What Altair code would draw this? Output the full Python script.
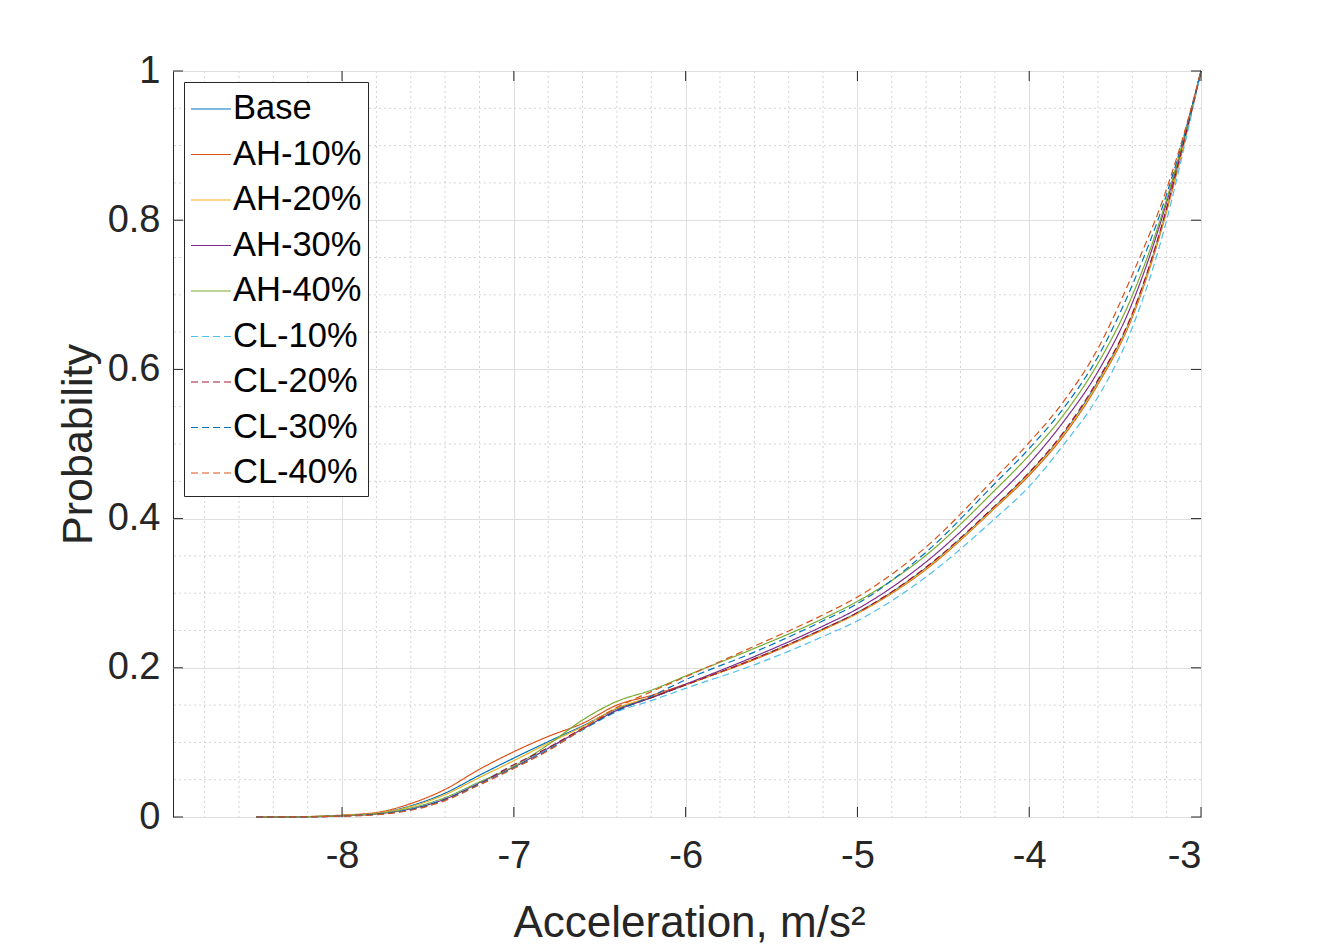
import altair as alt
import pandas as pd

# ---- data ----
X = [-8.5, -8.2, -8.0, -7.8, -7.6, -7.4, -7.2, -7.0, -6.8, -6.6, -6.4, -6.2, -6.0,
     -5.6, -5.2, -5.0, -4.6, -4.2, -4.0, -3.8, -3.6, -3.4, -3.2, -3.1, -3.0]

base = [0, 0.0005, 0.002, 0.005, 0.015, 0.032, 0.056, 0.079, 0.101, 0.122, 0.145, 0.160, 0.177,
        0.212, 0.252, 0.274, 0.334, 0.416, 0.461, 0.514, 0.584, 0.673, 0.815, 0.904, 1.0]
ah10 = [0, 0.0006, 0.0025, 0.006, 0.018, 0.037, 0.064, 0.0875, 0.108, 0.1255, 0.150, 0.163, 0.178,
        0.211, 0.251, 0.273, 0.332, 0.414, 0.458, 0.511, 0.580, 0.670, 0.812, 0.902, 1.0]
ah20 = [0, 0.0005, 0.002, 0.005, 0.014, 0.030, 0.053, 0.0755, 0.099, 0.121, 0.146, 0.161, 0.177,
        0.212, 0.251, 0.273, 0.333, 0.415, 0.460, 0.513, 0.582, 0.672, 0.814, 0.903, 1.0]
ah30 = [0, 0.0003, 0.0015, 0.004, 0.011, 0.024, 0.046, 0.067, 0.092, 0.118, 0.143, 0.160, 0.178,
        0.215, 0.256, 0.279, 0.342, 0.427, 0.474, 0.530, 0.597, 0.689, 0.824, 0.908, 1.0]
ah40 = [0, 0.0004, 0.0018, 0.0045, 0.012, 0.026, 0.047, 0.068, 0.097, 0.130, 0.155, 0.170, 0.189,
        0.226, 0.266, 0.289, 0.351, 0.438, 0.485, 0.539, 0.608, 0.699, 0.828, 0.910, 1.0]
cl10 = [0, 0.0003, 0.0015, 0.004, 0.011, 0.025, 0.046, 0.070, 0.091, 0.117, 0.141, 0.156, 0.1725,
        0.204, 0.242, 0.263, 0.322, 0.400, 0.443, 0.499, 0.563, 0.656, 0.800, 0.896, 1.0]
cl20 = [0, 0.0003, 0.0014, 0.0038, 0.010, 0.024, 0.045, 0.070, 0.093, 0.119, 0.143, 0.160, 0.177,
        0.212, 0.252, 0.274, 0.335, 0.417, 0.462, 0.516, 0.586, 0.675, 0.816, 0.905, 1.0]
cl30 = [0, 0.0003, 0.0013, 0.0035, 0.010, 0.023, 0.044, 0.066, 0.090, 0.117, 0.142, 0.162, 0.184,
        0.221, 0.263, 0.286, 0.355, 0.447, 0.494, 0.548, 0.617, 0.713, 0.835, 0.912, 1.0]
cl40 = [0, 0.0002, 0.0012, 0.003, 0.009, 0.022, 0.043, 0.065, 0.089, 0.118, 0.147, 0.168, 0.188,
        0.229, 0.271, 0.295, 0.362, 0.454, 0.502, 0.557, 0.628, 0.727, 0.842, 0.915, 1.0]

series_names = ["Base", "AH-10%", "AH-20%", "AH-30%", "AH-40%", "CL-10%", "CL-20%", "CL-30%", "CL-40%"]
series_vals = [base, ah10, ah20, ah30, ah40, cl10, cl20, cl30, cl40]
series_colors = ["#0072BD", "#D95319", "#EDB120", "#7E2F8E", "#77AC30",
                 "#4DBEEE", "#A2142F", "#0072BD", "#D95319"]
series_dash = [[1, 0]] * 5 + [[7, 4]] * 4

x_major = [-8, -7, -6, -5, -4, -3]
y_major = [0, 0.2, 0.4, 0.6, 0.8, 1]
x_minor = [-8.8, -8.6, -8.4, -8.2, -7.8, -7.6, -7.4, -7.2, -6.8, -6.6, -6.4, -6.2,
           -5.8, -5.6, -5.4, -5.2, -4.8, -4.6, -4.4, -4.2, -3.8, -3.6, -3.4, -3.2]
y_minor = [0.05, 0.1, 0.15, 0.25, 0.3, 0.35, 0.45, 0.5, 0.55, 0.65, 0.7, 0.75, 0.85, 0.9, 0.95]

X_DOMAIN = [-8.984, -3]
Y_DOMAIN = [0, 1]

W, H = 1028, 746
FONT = "Liberation Sans"
TXT = "#262626"

rows = []
for name, vals in zip(series_names, series_vals):
    for xv, pv in zip(X, vals):
        rows.append({"series": name, "acc": xv, "prob": pv})
df = pd.DataFrame(rows)

xs = alt.Scale(domain=X_DOMAIN, nice=False, zero=False)
ys = alt.Scale(domain=Y_DOMAIN, nice=False, zero=False)

x_axis = alt.Axis(
    values=x_major, grid=True, gridColor="#dedede", gridWidth=1,
    ticks=False, tickSize=0, domain=False,
    labelFont=FONT, labelFontSize=38, labelColor=TXT, labelPadding=20,
    labelExpr="'' + datum.value",
    title="Acceleration, m/s²", titleFont=FONT, titleFontSize=44,
    titleFontWeight="normal", titleColor=TXT,
    titleX=516, titleY=119, titleBaseline="alphabetic", titleAlign="center")
y_axis = alt.Axis(
    values=y_major, grid=True, gridColor="#dedede", gridWidth=1,
    ticks=False, tickSize=0, domain=False,
    labelFont=FONT, labelFontSize=38, labelColor=TXT, labelPadding=13,
    labelExpr="'' + datum.value",
    title="Probability", titleFont=FONT, titleFontSize=43,
    titleFontWeight="normal", titleColor=TXT,
    titleX=-82, titleY=373, titleAngle=270, titleBaseline="alphabetic", titleAlign="center")

leg = alt.Legend(
    title=None, orient="none", legendX=11, legendY=11,
    symbolType="stroke", symbolSize=1600, symbolStrokeWidth=1.2,
    labelFont=FONT, labelFontSize=34.5, labelColor="#000000", labelOffset=1,
    rowPadding=7.5, padding=6, strokeColor="#262626", fillColor="white",
    labelLimit=400,
)

lines = alt.Chart(df).mark_line(strokeWidth=1.2, interpolate="monotone").encode(
    x=alt.X("acc:Q", scale=xs, axis=x_axis),
    y=alt.Y("prob:Q", scale=ys, axis=y_axis),
    color=alt.Color("series:N", scale=alt.Scale(domain=series_names, range=series_colors),
                    sort=series_names, legend=leg),
    strokeDash=alt.StrokeDash("series:N", scale=alt.Scale(domain=series_names, range=series_dash),
                              sort=series_names, legend=leg),
    order=alt.Order("acc:Q"),
)

xminor_df = pd.DataFrame({"acc": x_minor})
yminor_df = pd.DataFrame({"prob": y_minor})
xmaj_df = pd.DataFrame({"acc": x_major})
ymaj_df = pd.DataFrame({"prob": y_major})

grid_style = dict(color="#d4d4d4", strokeWidth=1, strokeDash=[2, 3])
xminor = alt.Chart(xminor_df).mark_rule(**grid_style).encode(
    x=alt.X("acc:Q", scale=xs, axis=x_axis))
yminor = alt.Chart(yminor_df).mark_rule(**grid_style).encode(
    y=alt.Y("prob:Q", scale=ys, axis=y_axis))

tick_style = dict(color="#262626", strokeWidth=1)
xt_bot = alt.Chart(xmaj_df).mark_rule(**tick_style).encode(
    x=alt.X("acc:Q", scale=xs, axis=x_axis), y=alt.value(H), y2=alt.value(H - 10))
xt_top = alt.Chart(xmaj_df).mark_rule(**tick_style).encode(
    x=alt.X("acc:Q", scale=xs, axis=x_axis), y=alt.value(0), y2=alt.value(10))
yt_left = alt.Chart(ymaj_df).mark_rule(**tick_style).encode(
    y=alt.Y("prob:Q", scale=ys, axis=y_axis), x=alt.value(0), x2=alt.value(10))
yt_right = alt.Chart(ymaj_df).mark_rule(**tick_style).encode(
    y=alt.Y("prob:Q", scale=ys, axis=y_axis), x=alt.value(W), x2=alt.value(W - 10))

chart = alt.layer(xminor, yminor, lines, xt_bot, xt_top, yt_left, yt_right).properties(
    width=W, height=H,
    autosize=alt.AutoSizeParams(type="none"),
    padding={"left": 165, "top": 63, "right": 120, "bottom": 128},
    background="white",
).configure_view(stroke="#262626", strokeWidth=1)

chart.save("out.html", embed_options={"renderer": "svg", "actions": False})
